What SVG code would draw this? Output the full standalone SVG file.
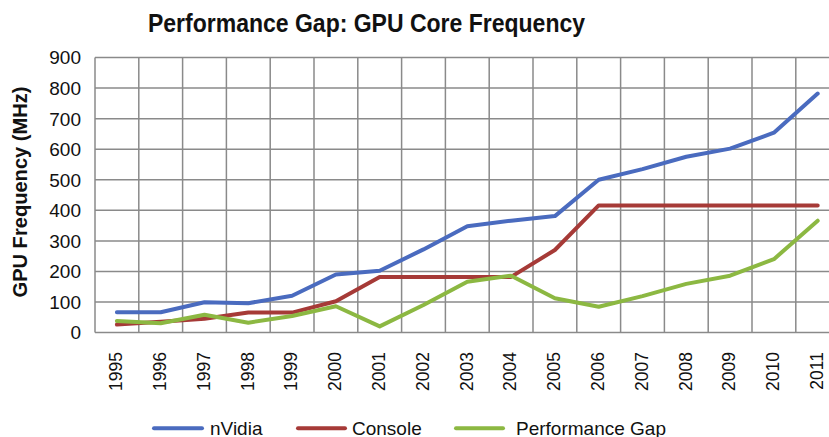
<svg xmlns="http://www.w3.org/2000/svg" width="829" height="437" viewBox="0 0 829 437">
<style>
.grid{stroke:#8a8a8a;stroke-width:1.5;fill:none}
.ser{fill:none;stroke-width:4;stroke-linejoin:round;stroke-linecap:round}
.nv{stroke:#4a6bbf}
.co{stroke:#a63a37}
.pg{stroke:#8cb842}
.tick{font-family:"Liberation Sans",Arial,sans-serif;font-size:19px;fill:#111}
.xt{font-family:"Liberation Sans",Arial,sans-serif;font-size:17.5px;fill:#111}
.leg{font-family:"Liberation Sans",Arial,sans-serif;font-size:19px;fill:#111}
.bold{font-family:"Liberation Sans",Arial,sans-serif;font-weight:bold;fill:#111}
</style>
<rect width="829" height="437" fill="#fff"/>
<g id="title"><text class="bold" x="148" y="32" font-size="26" textLength="437" lengthAdjust="spacingAndGlyphs">Performance Gap: GPU Core Frequency</text></g>
<g id="grid" class="grid">
<path d="M95 57.5H829M95 88.1H829M95 118.7H829M95 149.2H829M95 179.8H829M95 210.3H829M95 240.9H829M95 271.4H829M95 302H829M95 332.5H829"/>
<path d="M95 57.5V332.5M138.8 57.5V332.5M182.6 57.5V332.5M226.4 57.5V332.5M270.2 57.5V332.5M314 57.5V332.5M357.8 57.5V332.5M401.6 57.5V332.5M445.4 57.5V332.5M489.2 57.5V332.5M533 57.5V332.5M576.8 57.5V332.5M620.6 57.5V332.5M664.4 57.5V332.5M708.2 57.5V332.5M752 57.5V332.5M795.8 57.5V332.5"/>
</g>
<g id="y-axis" class="tick" text-anchor="end">
<text x="81" y="64.3">900</text>
<text x="81" y="94.9">800</text>
<text x="81" y="125.5">700</text>
<text x="81" y="156">600</text>
<text x="81" y="186.6">500</text>
<text x="81" y="217.1">400</text>
<text x="81" y="247.7">300</text>
<text x="81" y="278.2">200</text>
<text x="81" y="308.8">100</text>
<text x="81" y="339.3">0</text>
</g>
<g id="y-title"><text class="bold" font-size="20" text-anchor="middle" transform="translate(27 192) rotate(-90)" textLength="211" lengthAdjust="spacingAndGlyphs">GPU Frequency (MHz)</text></g>
<g id="x-axis" class="xt" text-anchor="end">
<text transform="translate(122.2 352) rotate(-90)">1995</text>
<text transform="translate(166 352) rotate(-90)">1996</text>
<text transform="translate(209.8 352) rotate(-90)">1997</text>
<text transform="translate(253.6 352) rotate(-90)">1998</text>
<text transform="translate(297.4 352) rotate(-90)">1999</text>
<text transform="translate(341.2 352) rotate(-90)">2000</text>
<text transform="translate(385 352) rotate(-90)">2001</text>
<text transform="translate(428.8 352) rotate(-90)">2002</text>
<text transform="translate(472.6 352) rotate(-90)">2003</text>
<text transform="translate(516.4 352) rotate(-90)">2004</text>
<text transform="translate(560.2 352) rotate(-90)">2005</text>
<text transform="translate(604 352) rotate(-90)">2006</text>
<text transform="translate(647.8 352) rotate(-90)">2007</text>
<text transform="translate(691.6 352) rotate(-90)">2008</text>
<text transform="translate(735.4 352) rotate(-90)">2009</text>
<text transform="translate(779.2 352) rotate(-90)">2010</text>
<text transform="translate(823 352) rotate(-90)">2011</text>
</g>
<g id="series-console"><polyline class="ser co" points="116.9,324.6 160.7,321.8 204.5,318.7 248.3,312.6 292.1,312.6 335.9,301.3 379.7,276.9 423.5,276.9 467.3,276.9 511.1,276.9 554.9,250 598.7,205.4 642.5,205.4 686.3,205.4 730.1,205.4 773.9,205.4 817.7,205.4"/></g>
<g id="series-gap"><polyline class="ser pg" points="116.9,320.9 160.7,323.3 204.5,314.8 248.3,322.7 292.1,316 335.9,306.2 379.7,326.4 423.5,305 467.3,281.8 511.1,275.7 554.9,298.3 598.7,306.8 642.5,296.1 686.3,283.9 730.1,275.7 773.9,259.2 817.7,220.7"/></g>
<g id="series-nvidia"><polyline class="ser nv" points="116.9,312.3 160.7,312.3 204.5,302.3 248.3,303.2 292.1,295.8 335.9,274.5 379.7,270.8 423.5,249.4 467.3,226.2 511.1,220.7 554.9,216.1 598.7,179.7 642.5,169.1 686.3,156.8 730.1,148.6 773.9,132.7 817.7,93.6"/></g>
<g id="legend">
<line class="ser nv" x1="154" y1="428.3" x2="202" y2="428.3"/>
<text class="leg" x="210" y="434.5">nVidia</text>
<line class="ser co" x1="298" y1="428.3" x2="345" y2="428.3"/>
<text class="leg" x="352" y="434.5">Console</text>
<line class="ser pg" x1="456" y1="428.3" x2="503" y2="428.3"/>
<text class="leg" x="516" y="434.5">Performance Gap</text>
</g>
</svg>
